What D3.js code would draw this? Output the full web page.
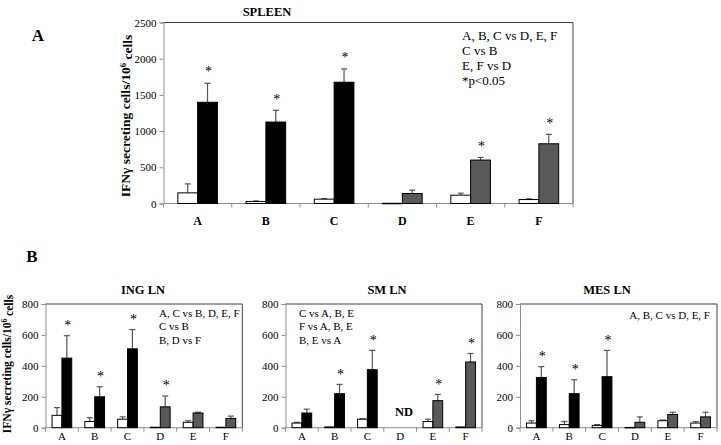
<!DOCTYPE html>
<html>
<head>
<meta charset="utf-8">
<script src="https://cdn.jsdelivr.net/npm/d3@7/dist/d3.min.js"></script>
<style>
  html, body { margin: 0; padding: 0; background: #fff; }
  svg { display: block; }
  svg text { font-family: 'Liberation Serif', 'DejaVu Serif', serif !important; fill: #000; }
</style>
</head>
<body>
<svg id="chart" width="721" height="445" font-family="Liberation Serif"></svg>
<script>
// ---------------- DATA ----------------
const categories = ["A", "B", "C", "D", "E", "F"];
const stimGroups = { A: "black", B: "black", C: "black", D: "gray", E: "gray", F: "gray" };

// Spleen (panel A)
const spleenCtrl    = [147, 28, 60, 3, 115, 55];
const spleenCtrlSd  = [124, 7, 8, 0, 27, 10];
const spleenStim    = [1398, 1125, 1675, 138, 600, 825];
const spleenStimSd  = [263, 162, 184, 46, 37, 130];
const spleenSig     = ["A", "B", "C", "E", "F"];
const spleenTicks   = [0, 500, 1000, 1500, 2000, 2500];
const spleenNotes   = ["A, B, C vs D, E, F", "C vs B", "E, F vs D", "*p<0.05"];

// ING LN
const ingCtrl   = [80, 40, 55, 3, 35, 3];
const ingCtrlSd = [50, 25, 15, 0, 10, 0];
const ingStim   = [450, 200, 510, 135, 95, 60];
const ingStimSd = [145, 65, 125, 70, 5, 15];
const ingSig    = ["A", "B", "C", "D"];
const ingNotes  = ["A, C vs B, D, E, F", "C vs B", "B, D vs F"];

// SM LN (D not determined)
const smCtrl   = [30, 5, 55, null, 40, 5];
const smCtrlSd = [5, 0, 3, null, 15, 0];
const smStim   = [95, 220, 375, null, 175, 425];
const smStimSd = [25, 60, 125, null, 40, 55];
const smSig    = ["B", "C", "E", "F"];
const smNotes  = ["C vs A, B, E", "F vs A, B, E", "B, E vs A"];

// MES LN
const mesCtrl   = [30, 20, 15, 2, 45, 30];
const mesCtrlSd = [15, 20, 5, 0, 5, 10];
const mesStim   = [325, 220, 330, 35, 85, 70];
const mesStimSd = [70, 90, 170, 35, 15, 30];
const mesSig    = ["A", "B", "C"];
const mesNotes  = ["A, B, C vs D, E, F"];

const lnTicks = [0, 200, 400, 600, 800];

// ---------------- DRAWING ----------------
const FONT = "'Liberation Serif', 'DejaVu Serif', serif";
const svg = d3.select("#chart");
const fillFor = { black: "#000000", gray: "#595959" };

function drawPanel(o) {
  const g = svg.append("g");
  const x = d3.scaleBand().domain(categories).range([o.x0, o.x1]).padding(0);
  const y = d3.scaleLinear().domain([0, o.max]).range([o.y1, o.y0]);
  const bw = x.bandwidth() * o.barFrac;

  // frame top & right
  g.append("path")
    .attr("d", `M${o.x0},${o.y0}H${o.x1}V${o.y1}`)
    .attr("fill", "none").attr("stroke", "#404040").attr("stroke-width", 1);

  // y axis
  const ya = g.append("g").attr("transform", `translate(${o.x0},0)`)
    .call(d3.axisLeft(y).tickValues(o.ticks).tickSize(4).tickPadding(3).tickFormat(d3.format("d")));
  ya.attr("font-family", FONT);
  ya.select(".domain").attr("stroke", "#8c8c8c");
  ya.selectAll(".tick line").attr("stroke", "#8c8c8c");
  ya.selectAll(".tick text").style("font-family", FONT).style("font-size", o.tickFont + "px").attr("fill", "#000");

  // x axis (ticks between categories)
  g.append("line").attr("x1", o.x0).attr("x2", o.x1).attr("y1", o.y1).attr("y2", o.y1)
    .attr("stroke", "#8c8c8c");
  const bounds = categories.map(c => x(c)).concat([o.x1]);
  g.selectAll(".ctick").data(bounds).join("line")
    .attr("x1", d => d).attr("x2", d => d).attr("y1", o.y1).attr("y2", o.y1 + 4)
    .attr("stroke", "#8c8c8c");
  g.selectAll(".clab").data(categories).join("text")
    .attr("x", d => x(d) + x.bandwidth() / 2).attr("y", o.catY)
    .attr("text-anchor", "middle").attr("dominant-baseline", "middle")
    .style("font-family", FONT)
    .style("font-size", o.catFont + "px").style("font-weight", o.catBold ? "bold" : "normal")
    .text(d => d);

  const rows = categories.map((c, i) => ({
    c, ctrl: o.ctrl[i], ctrlSd: o.ctrlSd[i], stim: o.stim[i], stimSd: o.stimSd[i]
  }));

  // error bars (upper only)
  function err(cx, v, sd) {
    if (v == null || !sd) return;
    const yt = y(v + sd), yb = y(v);
    g.append("line").attr("x1", cx).attr("x2", cx).attr("y1", yb).attr("y2", yt)
      .attr("stroke", "#555").attr("stroke-width", 1.2);
    g.append("line").attr("x1", cx - 3).attr("x2", cx + 3).attr("y1", yt).attr("y2", yt)
      .attr("stroke", "#555").attr("stroke-width", 1.2);
  }
  rows.forEach(r => {
    const cx = x(r.c) + x.bandwidth() / 2;
    err(cx - bw / 2, r.ctrl, r.ctrlSd);
    err(cx + bw / 2, r.stim, r.stimSd);
  });

  // control bars (white)
  g.selectAll(".ctrl").data(rows.filter(r => r.ctrl != null)).join("rect")
    .attr("x", r => x(r.c) + x.bandwidth() / 2 - bw)
    .attr("y", r => y(r.ctrl)).attr("width", bw)
    .attr("height", r => Math.max(0.5, y(0) - y(r.ctrl)))
    .attr("fill", "#fff").attr("stroke", "#000").attr("stroke-width", 1);
  // stimulated bars
  g.selectAll(".stim").data(rows.filter(r => r.stim != null)).join("rect")
    .attr("x", r => x(r.c) + x.bandwidth() / 2)
    .attr("y", r => y(r.stim)).attr("width", bw)
    .attr("height", r => y(0) - y(r.stim))
    .attr("fill", r => fillFor[stimGroups[r.c]]).attr("stroke", "#000").attr("stroke-width", 1);

  // significance stars
  g.selectAll(".star").data(rows.filter(r => o.sig.includes(r.c))).join("text")
    .attr("x", r => x(r.c) + x.bandwidth() / 2 + bw / 2 + 1)
    .attr("y", r => y(r.stim + r.stimSd) - o.starGap)
    .attr("text-anchor", "middle").attr("dominant-baseline", "middle")
    .style("font-family", FONT).style("font-size", o.starFont + "px")
    .text("*");

  // title
  svg.append("text").attr("x", o.titleX).attr("y", o.titleY)
    .attr("text-anchor", "middle").attr("dominant-baseline", "middle")
    .style("font-family", FONT)
    .style("font-size", o.titleFont + "px").style("font-weight", "bold").text(o.title);

  // notes
  g.selectAll(".note").data(o.notes).join("text")
    .attr("x", o.noteX).attr("y", (d, i) => o.noteY + i * o.noteStep)
    .attr("text-anchor", o.noteAnchor).attr("dominant-baseline", "middle")
    .style("font-family", FONT)
    .style("font-size", o.noteFont + "px").text(d => d);

  // y title
  if (o.yTitleX != null) {
    const t = svg.append("text")
      .attr("transform", `translate(${o.yTitleX},${o.yTitleY}) rotate(-90)`)
      .attr("text-anchor", "middle").attr("dominant-baseline", "middle")
      .style("font-family", FONT)
      .style("font-size", o.yTitleFont + "px").style("font-weight", "bold");
    t.append("tspan").text("IFNγ secreting cells/10");
    t.append("tspan").attr("dy", "-0.4em").style("font-size", (o.yTitleFont * 0.65) + "px").text("6");
    t.append("tspan").attr("dy", "0.4em").text(" cells");
  }
  return { x, y };
}

// Panel A
drawPanel({
  x0: 163.5, x1: 573, y0: 22.5, y1: 203.5, max: 2500, ticks: spleenTicks,
  ctrl: spleenCtrl, ctrlSd: spleenCtrlSd, stim: spleenStim, stimSd: spleenStimSd,
  sig: spleenSig, barFrac: 0.29, tickFont: 11, catFont: 12, catBold: true, catY: 222,
  starFont: 14, starGap: 10,
  title: "SPLEEN", titleX: 267, titleY: 13, titleFont: 12.5,
  notes: spleenNotes, noteX: 462, noteY: 37.5, noteStep: 15, noteAnchor: "start", noteFont: 13,
  yTitleX: 127, yTitleY: 116, yTitleFont: 13.5
});

const lnCommon = {
  y0: 304, y1: 427.7, max: 800, ticks: lnTicks, barFrac: 0.3,
  tickFont: 11, catFont: 11, catBold: false, catY: 437, starFont: 14, starGap: 9,
  titleY: 291, titleFont: 12.5, noteStep: 13.3, noteFont: 11
};

drawPanel(Object.assign({}, lnCommon, {
  x0: 45.5, x1: 242.3, ctrl: ingCtrl, ctrlSd: ingCtrlSd, stim: ingStim, stimSd: ingStimSd,
  sig: ingSig, title: "ING LN", titleX: 143,
  notes: ingNotes, noteX: 159, noteY: 314.5, noteAnchor: "start",
  yTitleX: 8, yTitleY: 364, yTitleFont: 11.5
}));

const sm = drawPanel(Object.assign({}, lnCommon, {
  x0: 285.5, x1: 482, ctrl: smCtrl, ctrlSd: smCtrlSd, stim: smStim, stimSd: smStimSd,
  sig: smSig, title: "SM LN", titleX: 387,
  notes: smNotes, noteX: 299, noteY: 314.5, noteAnchor: "start"
}));
// ND label for SM LN D
svg.append("text").attr("x", sm.x("D") + sm.x.bandwidth() / 2 + 4).attr("y", 413)
  .attr("text-anchor", "middle").attr("dominant-baseline", "middle")
  .style("font-family", FONT)
  .style("font-size", "12.5px").style("font-weight", "bold").text("ND");

drawPanel(Object.assign({}, lnCommon, {
  x0: 520, x1: 717, ctrl: mesCtrl, ctrlSd: mesCtrlSd, stim: mesStim, stimSd: mesStimSd,
  sig: mesSig, title: "MES LN", titleX: 607,
  notes: mesNotes, noteX: 710, noteY: 316.5, noteAnchor: "end"
}));

// panel letters
svg.append("text").attr("x", 38).attr("y", 37).attr("text-anchor", "middle").attr("dominant-baseline", "middle")
  .style("font-family", FONT)
  .style("font-size", "17px").style("font-weight", "bold").text("A");
svg.append("text").attr("x", 32).attr("y", 258).attr("text-anchor", "middle").attr("dominant-baseline", "middle")
  .style("font-family", FONT)
  .style("font-size", "17px").style("font-weight", "bold").text("B");
</script>
</body>
</html>
